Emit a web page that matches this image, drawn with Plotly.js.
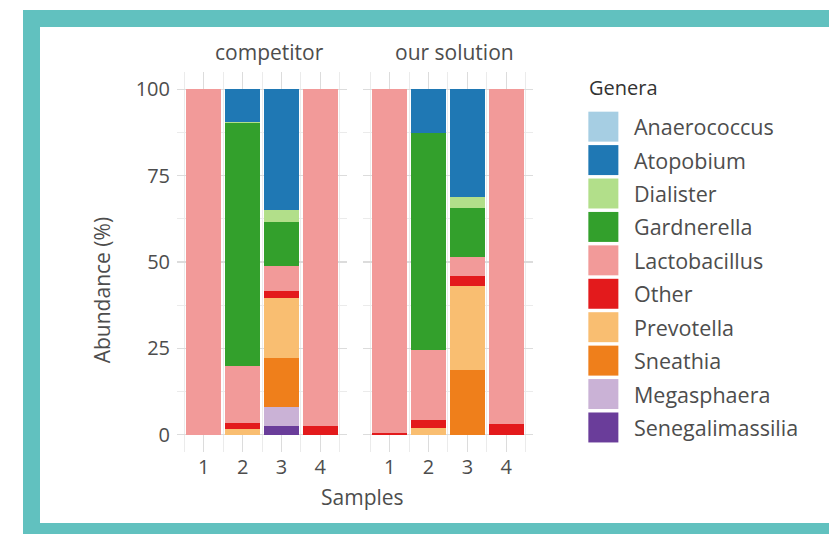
<!DOCTYPE html>
<html>
<head>
<meta charset="utf-8">
<script src="https://cdn.plot.ly/plotly-3.0.1.min.js"></script>
<style>
  html, body { margin: 0; padding: 0; background: #ffffff; overflow: hidden; }
  #frame { position: absolute; left: 23px; top: 10px; width: 830px; height: 540px; background: #61c1bf; }
  #chart { position: absolute; left: 40px; top: 27px; width: 789px; height: 496px; background: #ffffff; }
</style>
</head>
<body>
<div id="frame"></div>
<div id="chart"></div>
<script>
// ---- data ----
const samples = [1, 2, 3, 4];
const sampleLabels = ['1', '2', '3', '4'];
const facets = ['competitor', 'our solution'];

// legend order (top to bottom)
const genera = ['Anaerococcus', 'Atopobium', 'Dialister', 'Gardnerella', 'Lactobacillus',
                'Other', 'Prevotella', 'Sneathia', 'Megasphaera', 'Senegalimassilia'];
const generaColors = ['#A6CEE3', '#1F78B4', '#B2DF8A', '#33A02C', '#F29A99',
                      '#E31A1C', '#F9BE71', '#EF7F1B', '#CAB2D6', '#6A3D9A'];

// competitor abundances (%) per sample 1..4
const competitor_Anaerococcus     = [0, 0, 0, 0];
const competitor_Atopobium        = [0, 9.5, 34.9, 0];
const competitor_Dialister        = [0, 0.3, 3.5, 0];
const competitor_Gardnerella      = [0, 70.3, 12.7, 0];
const competitor_Lactobacillus    = [100, 16.4, 7.2, 97.4];
const competitor_Other            = [0, 1.8, 2.1, 2.6];
const competitor_Prevotella       = [0, 1.7, 17.3, 0];
const competitor_Sneathia         = [0, 0, 14.2, 0];
const competitor_Megasphaera      = [0, 0, 5.5, 0];
const competitor_Senegalimassilia = [0, 0, 2.6, 0];

// our solution abundances (%) per sample 1..4
const ours_Anaerococcus     = [0, 0, 0, 0];
const ours_Atopobium        = [0, 12.8, 31.1, 0];
const ours_Dialister        = [0, 0, 3.2, 0];
const ours_Gardnerella      = [0, 62.6, 14.2, 0];
const ours_Lactobacillus    = [99.4, 20.3, 5.5, 96.8];
const ours_Other            = [0.6, 2.3, 2.9, 3.2];
const ours_Prevotella       = [0, 2.0, 24.3, 0];
const ours_Sneathia         = [0, 0, 18.8, 0];
const ours_Megasphaera      = [0, 0, 0, 0];
const ours_Senegalimassilia = [0, 0, 0, 0];

const competitorValues = [competitor_Anaerococcus, competitor_Atopobium, competitor_Dialister,
  competitor_Gardnerella, competitor_Lactobacillus, competitor_Other, competitor_Prevotella,
  competitor_Sneathia, competitor_Megasphaera, competitor_Senegalimassilia];
const oursValues = [ours_Anaerococcus, ours_Atopobium, ours_Dialister, ours_Gardnerella,
  ours_Lactobacillus, ours_Other, ours_Prevotella, ours_Sneathia, ours_Megasphaera,
  ours_Senegalimassilia];

// ---- layout geometry (div pixels) ----
const OX = 40, OY = 27;               // div offset on page
const plotL = 137, plotR = 492.7, plotT = 45, plotB = 425.3;
function pxX(pageX) { return (pageX - OX - plotL) / (plotR - plotL); }
function pxY(pageY) { return (plotB - (pageY - OY)) / (plotB - plotT); }

const FONT = '"Open Sans", "DejaVu Sans", sans-serif';
const TXT = '#4d4d4d';

// ---- traces: stack bottom-to-top (reverse legend order) ----
const traces = [];
for (let i = genera.length - 1; i >= 0; i--) {
  traces.push({
    type: 'bar', name: genera[i], x: samples, y: competitorValues[i],
    xaxis: 'x', yaxis: 'y', marker: { color: generaColors[i], line: { width: 0 } },
    showlegend: false, hoverinfo: 'name+y'
  });
  traces.push({
    type: 'bar', name: genera[i], x: samples, y: oursValues[i],
    xaxis: 'x2', yaxis: 'y2', marker: { color: generaColors[i], line: { width: 0 } },
    showlegend: false, hoverinfo: 'name+y'
  });
}

const xCommon = {
  range: [0.31, 4.69], tickmode: 'array', tickvals: samples, ticktext: sampleLabels,
  showgrid: true, gridcolor: '#dcdcdc', gridwidth: 1.3, zeroline: false, showline: false,
  ticks: '', tickfont: { family: FONT, size: 20, color: TXT }, fixedrange: true,
  ticklabelstandoff: 1,
  minor: { tickvals: [0.5, 1.5, 2.5, 3.5, 4.5], showgrid: true, gridcolor: '#ebebeb', gridwidth: 1 }
};
const yCommon = {
  range: [-5, 105], tickmode: 'array', tickvals: [0, 25, 50, 75, 100],
  showgrid: true, gridcolor: '#dcdcdc', gridwidth: 1.3, zeroline: false, showline: false,
  ticks: '', fixedrange: true,
  minor: { tickvals: [12.5, 37.5, 62.5, 87.5], showgrid: true, gridcolor: '#ebebeb', gridwidth: 1 }
};

const annotations = [
  { text: facets[0], x: pxX(269), y: pxY(51.5) },
  { text: facets[1], x: pxX(454), y: pxY(51.5) },
  { text: 'Samples', x: pxX(362), y: pxY(497) },
].map(a => Object.assign({ xref: 'paper', yref: 'paper', showarrow: false,
  xanchor: 'center', yanchor: 'middle', font: { family: FONT, size: 21, color: TXT } }, a));

annotations.push({ text: 'Abundance (%)', x: pxX(101.5), y: pxY(290), xref: 'paper', yref: 'paper',
  showarrow: false, textangle: -90, xanchor: 'center', yanchor: 'middle',
  font: { family: FONT, size: 21, color: TXT } });

// legend (custom, built from genera/colors)
annotations.push({ text: 'Genera', x: pxX(587), y: pxY(88), xref: 'paper', yref: 'paper',
  showarrow: false, xanchor: 'left', yanchor: 'middle', font: { family: FONT, size: 20, color: '#333333' } });
const shapes = [];
genera.forEach((g, i) => {
  const cy = 126.7 + 33.45 * i;
  shapes.push({ type: 'rect', xref: 'paper', yref: 'paper', layer: 'above',
    x0: pxX(588), x1: pxX(618), y0: pxY(cy - 15), y1: pxY(cy + 15),
    fillcolor: generaColors[i], line: { width: 0 } });
  annotations.push({ text: g, x: pxX(632), y: pxY(cy), xref: 'paper', yref: 'paper',
    showarrow: false, xanchor: 'left', yanchor: 'middle', font: { family: FONT, size: 21.5, color: TXT } });
});

const layout = {
  width: 789, height: 496,
  margin: { l: plotL, r: 789 - plotR, t: plotT, b: 496 - plotB, pad: 0 },
  paper_bgcolor: '#ffffff', plot_bgcolor: '#ffffff',
  barmode: 'stack', bargap: 0.1,
  showlegend: false,
  xaxis: Object.assign({ domain: [0, 170 / 355.7], anchor: 'y' }, xCommon),
  xaxis2: Object.assign({ domain: [1 - 170 / 355.7, 1], anchor: 'y2' }, xCommon),
  yaxis: Object.assign({ domain: [0, 1], anchor: 'x', showticklabels: true, ticklabelstandoff: 6,
    tickfont: { family: FONT, size: 20, color: TXT } }, yCommon),
  yaxis2: Object.assign({ domain: [0, 1], anchor: 'x2', matches: 'y', showticklabels: false }, yCommon),
  annotations: annotations,
  shapes: shapes,
  font: { family: FONT, color: TXT }
};

Plotly.newPlot('chart', traces, layout, { displayModeBar: false, staticPlot: true });
</script>
</body>
</html>
